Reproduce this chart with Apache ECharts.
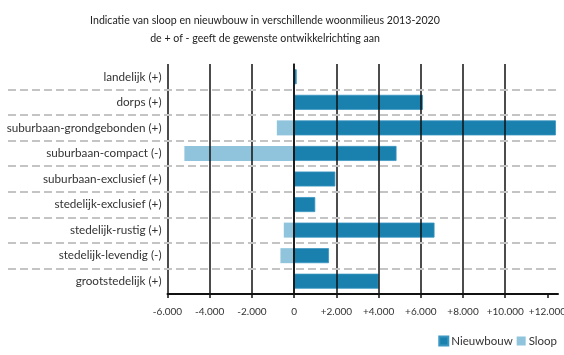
<!DOCTYPE html>
<html><head><meta charset="utf-8">
<script src="https://cdn.jsdelivr.net/npm/echarts@6/dist/echarts.min.js"></script>
<style>html,body{margin:0;padding:0;background:#fff}#c{width:564px;height:355px}</style>
</head><body><div id="c"></div>
<script>
var titleLines = ['Indicatie van sloop en nieuwbouw in verschillende woonmilieus 2013-2020', 'de + of - geeft de gewenste ontwikkelrichting aan'];
var categories = ['landelijk (+)', 'dorps (+)', 'suburbaan-grondgebonden (+)', 'suburbaan-compact (-)', 'suburbaan-exclusief (+)', 'stedelijk-exclusief (+)', 'stedelijk-rustig (+)', 'stedelijk-levendig (-)', 'grootstedelijk (+)'];
var nieuwbouw = [120, 6100, 12400, 4850, 1950, 1000, 6650, 1650, 4000];
var sloop = [0, 0, -820, -5200, 0, 0, -490, -650, 0];
var seriesNames = ['Nieuwbouw', 'Sloop'];
var xTicks = [-6000, -4000, -2000, 0, 2000, 4000, 6000, 8000, 10000, 12000];

var FONT = 'Lato';
function fmt(v) {
  if (v === 0) return '0';
  var a = Math.abs(v);
  var s = a >= 1000 ? Math.floor(a / 1000) + '.' + String(a % 1000).padStart(3, '0') : String(a);
  return (v > 0 ? '+' : '-') + s;
}
var chart = echarts.init(document.getElementById('c'), null, {renderer: 'canvas'});
chart.setOption({
  animation: false,
  backgroundColor: '#fff',
  title: {
    text: titleLines.join('\n'),
    left: 260, top: 6, textAlign: 'center',
    textStyle: {fontFamily: FONT, fontSize: 10.6, fontWeight: 'normal', color: '#222', lineHeight: 18.5}
  },
  legend: {
    data: seriesNames, right: 2, bottom: 3,
    itemWidth: 9, itemHeight: 9, itemGap: 4, icon: 'rect',
    textStyle: {fontFamily: FONT, fontSize: 11.5, color: '#333', padding: [0, 0, 0, -2]}
  },
  grid: [
    {left: 8, right: 6, top: 64, bottom: 61, outerBoundsMode: 'none', containLabel: false},
    {left: 167.5, right: 6, top: 64, bottom: 61, outerBoundsMode: 'none', containLabel: false}
  ],
  xAxis: [
    {gridIndex: 0, type: 'value', show: false, min: 0, max: 1},
    {
      gridIndex: 1, type: 'value', min: -6000, max: 12500, interval: 2000, z: 5,
      axisLine: {show: true, onZero: false, lineStyle: {color: '#111', width: 2}},
      axisTick: {show: true, length: 4, lineStyle: {color: '#111', width: 1.5}, customValues: xTicks},
      axisLabel: {fontFamily: FONT, fontSize: 10, color: '#333', margin: 13, formatter: fmt, customValues: xTicks, hideOverlap: false},
      splitLine: {show: true, showMaxLine: false, lineStyle: {color: '#111', width: 1.5}}
    }
  ],
  yAxis: [
    {
      gridIndex: 0, type: 'category', data: categories, inverse: true, z: 6,
      axisLine: {show: false}, axisTick: {show: false}, axisLabel: {show: false},
      splitLine: {show: true, showMinLine: false, showMaxLine: false, lineStyle: {color: '#c4c4c4', width: 2, type: [8, 4]}}
    },
    {
      gridIndex: 1, type: 'category', data: categories, inverse: true, z: 5,
      axisLine: {show: true, lineStyle: {color: '#111', width: 1.5}},
      axisTick: {show: false},
      axisLabel: {fontFamily: FONT, fontSize: 11.7, color: '#333', margin: 6},
      splitLine: {show: false}
    }
  ],
  series: [
    {name: seriesNames[0], type: 'bar', xAxisIndex: 1, yAxisIndex: 1, data: nieuwbouw, barWidth: 15, barGap: '-100%',
     itemStyle: {color: '#1a80ae', borderColor: '#3a95c0', borderWidth: 0.8}},
    {name: seriesNames[1], type: 'bar', xAxisIndex: 1, yAxisIndex: 1, data: sloop, barWidth: 15, barGap: '-100%',
     itemStyle: {color: '#8fc4dc'}}
  ]
});
</script></body></html>
